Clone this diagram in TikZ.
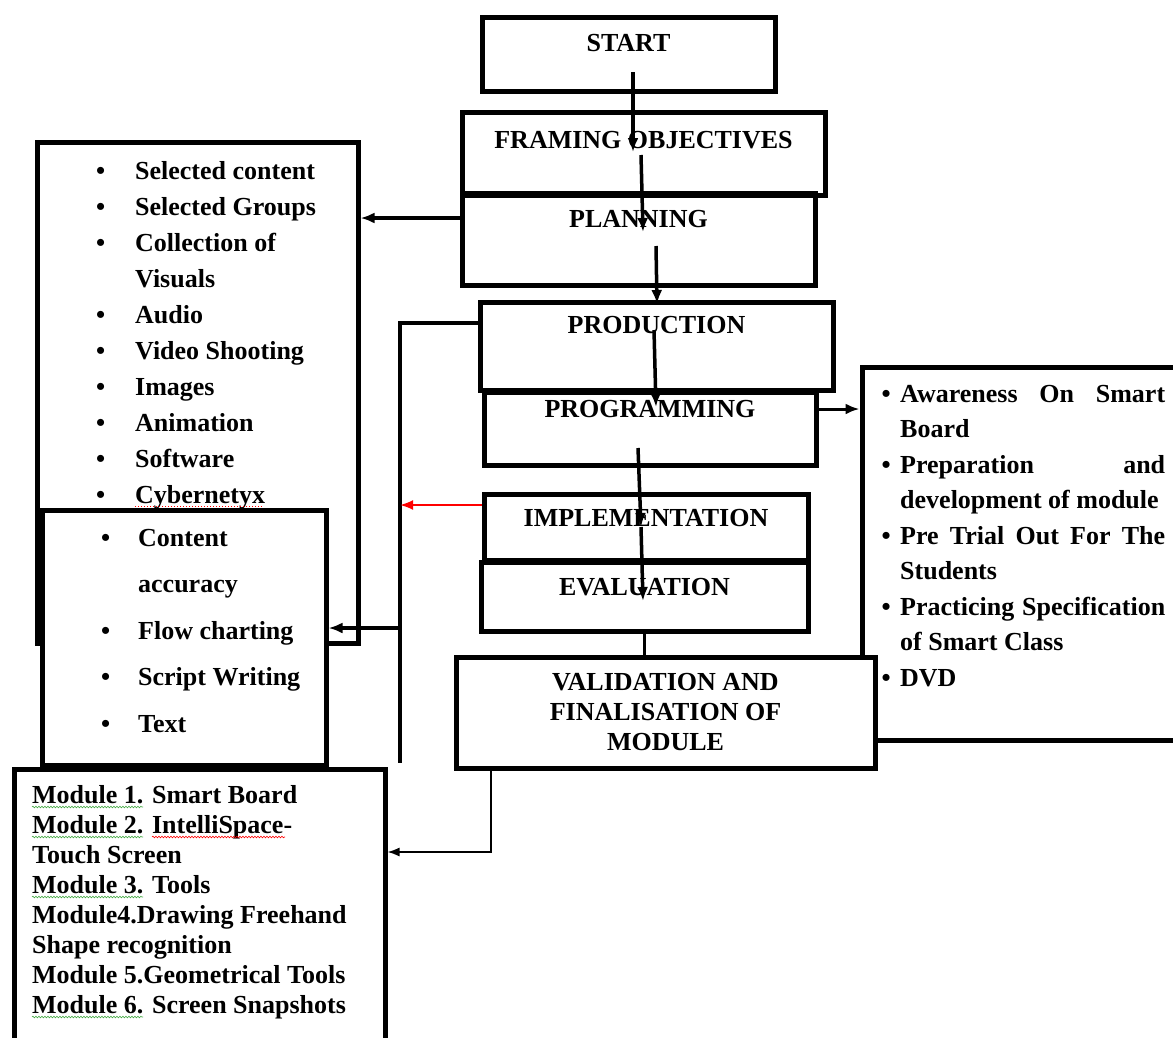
\documentclass[tikz,border=0pt]{standalone}
\usepackage{fontspec}
\setmainfont{Liberation Serif}
\usetikzlibrary{arrows.meta, decorations.pathmorphing}

\newcommand{\bul}[1][39pt]{\makebox[#1][l]{\textbullet}}
\newcommand{\pitem}{\par\noindent\hangindent=18.5pt\hangafter=1\makebox[18.5pt][l]{\textbullet}}
\definecolor{spellgreen}{RGB}{70,170,70}

\begin{document}
\begin{tikzpicture}[x=1pt, y=-1pt]

\tikzset{stage/.style = {draw, line width=5pt, inner sep=0pt, font=\bfseries\fontsize{26}{30}\selectfont}}
\tikzset{panel/.style = {draw, line width=5pt, fill=white, inner sep=0pt}}
\tikzset{itemlist/.style = {anchor=north west, inner sep=0pt, align=left}}
\tikzset{flow/.style = {-{Latex[length=14pt,width=11pt]}, line width=3.5pt}}
\tikzset{bus/.style = {line width=4pt}}
\tikzset{redflow/.style = {-{Latex[length=13pt,width=10pt]}, line width=2pt, red}}
\tikzset{thinflow/.style = {-{Latex[length=12pt,width=9pt]}, line width=1.6pt}}
\tikzset{spell/.style = {decorate, decoration={snake, amplitude=0.8pt, segment length=3pt}, line width=0.6pt}}

\useasboundingbox (0,0) rectangle (1173,1037);
\clip (0,0) rectangle (1173,1037);

%left lists
\node[panel, fill=none, minimum width=321pt, minimum height=501pt] (content) at (197.5,392.5) {};
\node[itemlist, font=\bfseries\fontsize{26}{36}\selectfont] (contentlist) at (96,153.8)
  {\strut\bul Selected content\\ \bul Selected Groups\\ \bul Collection of\\ \hspace*{39pt}Visuals\\
   \bul Audio\\ \bul Video Shooting\\ \bul Images\\ \bul Animation\\ \bul Software\\ \bul Cybernetyx};
\draw[red, dotted, line width=1pt] (135,506) -- (263,506);

\node[panel, minimum width=284pt, minimum height=255pt] (media) at (184,637.5) {};
\node[itemlist, font=\bfseries\fontsize{26}{46.5}\selectfont] (medialist) at (101,513.45)
  {\strut\bul[37pt]{}Content\\ \hspace*{37pt}accuracy\\ \bul[37pt]{}Flow charting\\
   \bul[37pt]{}Script Writing\\ \bul[37pt]{}Text};

%right list
\node[panel, minimum width=338pt, minimum height=373pt] (aware) at (1031,553.5) {};
\node[itemlist, align=justify, text width=283.5pt, font=\bfseries\fontsize{26}{35.5}\selectfont] (awarelist) at (881.5,377.15)
  {\hyphenpenalty=10000 \tolerance=10000
   \noindent\hangindent=18.5pt\hangafter=1\strut\makebox[18.5pt][l]{\textbullet}Awareness On Smart Board
   \pitem Preparation and development of module
   \pitem Pre Trial Out For The Students
   \pitem Practicing Specification of Smart Class
   \pitem DVD\par};

%stages
\node[stage, minimum width=293pt, minimum height=74pt, text height=34pt, text depth=40pt] (start) at (628.5,54) {START};
\node[stage, minimum width=363pt, minimum height=83pt, text height=36pt, text depth=47pt] (frame) at (643.5,153.5) {FRAMING OBJECTIVES};
\node[stage, minimum width=353pt, minimum height=92pt, text height=34pt, text depth=58pt] (plan) at (638.5,239) {PLANNING};
\node[stage, minimum width=353pt, minimum height=88pt, text height=31pt, text depth=57pt] (prod) at (656.5,346) {PRODUCTION};
\node[stage, minimum width=332pt, minimum height=73pt, text height=25pt, text depth=48pt] (prog) at (650,428.5) {PROGRAMMING};
\node[stage, minimum width=324pt, minimum height=66pt, text height=32pt, text depth=34pt] (impl) at (646,527) {IMPLEMENTATION};
\node[stage, minimum width=327pt, minimum height=69pt, text height=33pt, text depth=36pt] (eval) at (644.5,596.5) {EVALUATION};
\node[stage, fill=white, align=center, minimum width=419pt, minimum height=111pt] (valid) at (665.5,712.5)
  {VALIDATION AND\\FINALISATION OF\\MODULE};

%modules
\node[panel, minimum width=371pt, minimum height=281pt] (module) at (199.5,909.5) {};
\node[itemlist, font=\bfseries\fontsize{26}{30.1}\selectfont] (modulelist) at (32,781.93)
  {\strut Module 1. Smart Board\\ Module 2. IntelliSpace-\\ Touch Screen\\ Module 3. Tools\\
   Module4.Drawing Freehand\\ Shape recognition\\ Module 5.Geometrical Tools\\ Module 6. Screen Snapshots};
\foreach \y in {807,837,897,1017}
  \draw[spell, spellgreen] (32,\y) -- (143,\y);
\draw[spell, red] (152,837) -- (285,837);

%edges
\coordinate (s1) at (633,72);  \coordinate (e1) at (633,152);
\coordinate (s2) at (641,155); \coordinate (e2) at (643,232);
\coordinate (s3) at (656,246); \coordinate (e3) at (657,304);
\coordinate (s4) at (654,330); \coordinate (e4) at (656,407);
\coordinate (s5) at (638,448); \coordinate (e5) at (641,527);
\coordinate (s6) at (641,527); \coordinate (e6) at (643,601);
\foreach \i in {1,...,6}
  \draw[flow] (s\i) -- (e\i);

\coordinate (busend) at (400,763);
\coordinate (tap) at (400,628);
\draw[flow, line width=4pt] ([yshift=21pt]plan.west) -- ([yshift=21pt]plan.west -| content.east);
\draw[bus] ([yshift=23pt]prod.west) -| (busend);
\draw[flow] (tap) -- (tap -| media.east);
\draw[redflow] ([yshift=22pt]impl.west) -- ([yshift=22pt]impl.west -| tap);
\draw[flow, line width=3pt] ([yshift=19.5pt]prog.east) -- ([yshift=19.5pt]prog.east -| aware.west);
\draw[line width=2.5pt] (eval.south) -- (eval.south |- valid.north);
\draw[thinflow] ([xshift=-174.5pt]valid.south) |- ([yshift=57.5pt]module.east);

\end{tikzpicture}
\end{document}
